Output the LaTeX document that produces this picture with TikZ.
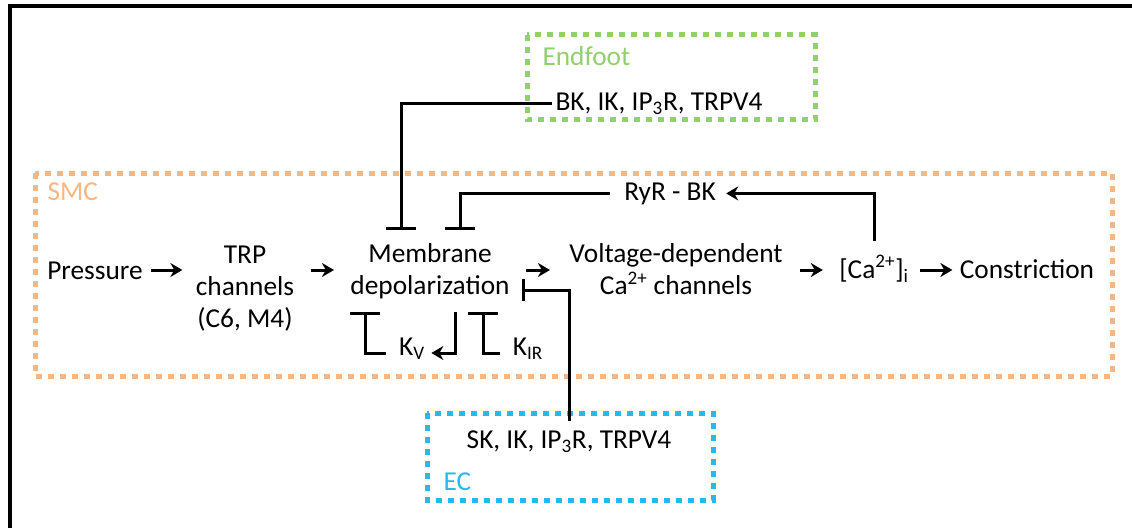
\documentclass[tikz,border=0pt]{standalone}
\usepackage{fontspec}
\setmainfont{Carlito}
\usetikzlibrary{arrows.meta}
\definecolor{endfootgreen}{RGB}{146,208,110}
\definecolor{smcorange}{RGB}{248,182,130}
\definecolor{ecblue}{RGB}{40,185,235}
\tikzset{
  lbl/.style={inner sep=0pt,font=\fontsize{20.5}{24}\selectfont},
  act/.style={-{Stealth[length=9pt,width=10.5pt]}},
  inh/.style={-{Bar[width=22.5pt]}},
  zone/.style={line width=3.75pt,dash pattern=on 4.5pt off 4.5pt},
}
\begin{document}
\begin{tikzpicture}[x=0.75pt,y=-0.75pt,line width=2.25pt]
\useasboundingbox (0,0) rectangle (1132,528);
% ---------- frame ----------
\draw[line width=2.6pt] (10,528) -- (10,6) -- (1132,6);
% ---------- compartments ----------
\draw[zone,endfootgreen] (527,35) rectangle (815,120);
\draw[zone,smcorange] (35,173) rectangle (1112,376);
\draw[zone,ecblue] (427,413) rectangle (713,500);
\node[lbl,anchor=base west,text=endfootgreen] (endfootname) at (541,65) {Endfoot};
\node[lbl,anchor=base west,text=smcorange] (smcname) at (46,200) {SMC};
\node[lbl,anchor=base west,text=ecblue] (ecname) at (442,490) {EC};
% ---------- main pathway ----------
\node[lbl,anchor=base] (press) at (95,279) {Pressure};
\node[lbl,align=center] (trp) at (245,289) {TRP\\channels\\(C6, M4)};
\node[lbl,align=center] (mem) at (430,271) {Membrane\\depolarization};
\node[lbl,align=center] (vdcc) at (676,269) {Voltage-dependent\\Ca\textsuperscript{2+} channels};
\node[lbl,anchor=base] (ca) at (874,278) {[Ca\textsuperscript{2+}]\textsubscript{i}};
\node[lbl,anchor=base] (constr) at (1027,278) {Constriction};
% ---------- feedback ----------
\node[lbl,anchor=base] (ryr) at (670,200) {RyR - BK};
\node[lbl,anchor=base] (kv) at (412,355) {K\textsubscript{V}};
\node[lbl,anchor=base] (kir) at (528,355) {K\textsubscript{IR}};
\node[lbl,anchor=base west] (bk) at (554,110) {BK, IK, IP\textsubscript{3}R, TRPV4};
\node[lbl,anchor=base] (ec) at (569,448) {SK, IK, IP\textsubscript{3}R, TRPV4};
% bar ends and turning rows
\coordinate (row) at (0,270);
\coordinate (krow) at (0,353);
\coordinate (barA) at (401,230);
\coordinate (barB) at (460,230);
\coordinate (barC) at (365,312);
\coordinate (barD) at (483,312);
\coordinate (barE) at (522,290);
\coordinate (kvstart) at (455,312);
% ---------- arrows ----------
\draw[act,shorten <=5.25pt,shorten >=9pt] (press.east |- row) -- (trp.west |- row);
\draw[act,shorten <=11.25pt,shorten >=11.25pt] (trp.east |- row) -- (mem.west |- row);
\draw[act,shorten <=11.25pt,shorten >=13.5pt] (mem.east |- row) -- (vdcc.west |- row);
\draw[act,shorten <=12pt,shorten >=11.25pt] (vdcc.east |- row) -- (ca.west |- row);
\draw[act,shorten <=7.5pt,shorten >=4.5pt] (ca.east |- row) -- (constr.west |- row);
\draw[act,shorten <=10pt,shorten >=6.75pt] (ca.north) |- (ryr.east);
\draw[act,shorten >=3.75pt] (kvstart) |- (kv.east |- krow);
% ---------- inhibitions ----------
\draw[inh,shorten <=1.5pt] (bk.west) -| (barA);
\draw[inh,shorten <=9.75pt] (ryr.west) -| (barB);
\draw[inh,shorten <=9pt] (kv.west |- krow) -| (barC);
\draw[inh,shorten <=8.25pt] (kir.west |- krow) -| (barD);
\draw[-{Bar[width=16.5pt]},shorten <=6pt] (ec.north) |- (barE);
\end{tikzpicture}
\end{document}
